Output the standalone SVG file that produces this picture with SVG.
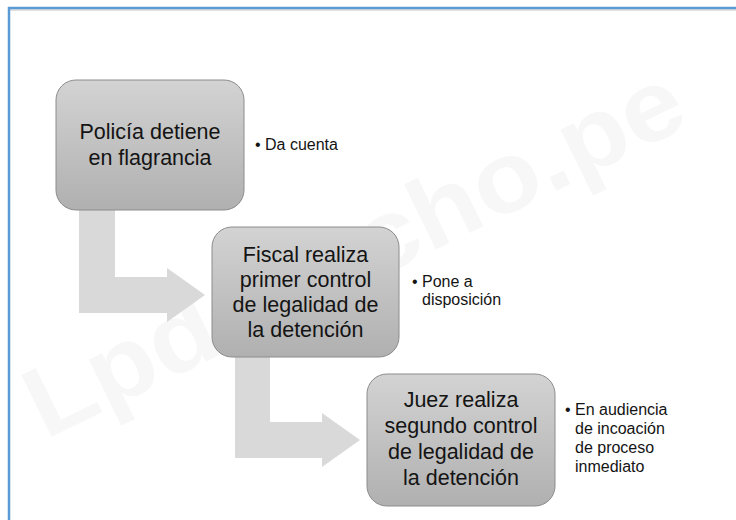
<svg xmlns="http://www.w3.org/2000/svg" width="736" height="520" viewBox="0 0 736 520">
  <defs>
    <linearGradient id="boxg" x1="0" y1="0" x2="0" y2="1">
      <stop offset="0" stop-color="#d3d3d3"/>
      <stop offset="1" stop-color="#b0b0b0"/>
    </linearGradient>
    <style>
      .box { fill: url(#boxg); stroke: #8c8c8c; stroke-width: 1; }
      .bt { font-family: "Liberation Sans", Arial, sans-serif; font-size: 21.5px; fill: #141414; text-anchor: middle; }
      .lt { font-family: "Liberation Sans", Arial, sans-serif; font-size: 16px; fill: #141414; }
      .arrow { fill: #d9d9d9; }
      .wm { font-family: "Liberation Sans", Arial, sans-serif; font-weight: bold; font-size: 100px; fill: #f7f7f7; }
    </style>
  </defs>
  <rect x="0" y="0" width="736" height="520" fill="#ffffff"/>
  <text class="wm" x="45" y="440" transform="rotate(-26 45 440)" textLength="720" lengthAdjust="spacingAndGlyphs">Lpderecho.pe</text>
  <path d="M10,10 H736" stroke="#d6d6d6" stroke-width="1.5" fill="none"/>
  <path d="M9,520 V8 H736" stroke="#5b9bd5" stroke-width="2.5" fill="none"/>

  <g id="connectors">
    <path class="arrow" d="M79,205 L115,205 L115,277 L167,277 L167,268 L205,295 L167,322 L167,313 L79,313 Z"/>
    <path class="arrow" d="M235,352 L270,352 L270,422 L322,422 L322,413 L360,440 L322,467 L322,458 L235,458 Z"/>
  </g>

  <g id="node1">
    <rect class="box" x="56" y="80" width="188" height="130" rx="20" ry="20"/>
    <text class="bt" x="150" y="139">Policía detiene</text>
    <text class="bt" x="150" y="165">en flagrancia</text>
  </g>
  <g id="note1">
    <text class="lt" x="255" y="150">•</text>
    <text class="lt" x="265" y="150">Da cuenta</text>
  </g>

  <g id="node2">
    <rect class="box" x="212" y="227" width="187" height="130" rx="20" ry="20"/>
    <text class="bt" x="305.5" y="262">Fiscal realiza</text>
    <text class="bt" x="305.5" y="287">primer control</text>
    <text class="bt" x="305.5" y="312">de legalidad de</text>
    <text class="bt" x="305.5" y="337">la detención</text>
  </g>
  <g id="note2">
    <text class="lt" x="412" y="287">•</text>
    <text class="lt" x="422" y="287">Pone a</text>
    <text class="lt" x="422" y="305">disposición</text>
  </g>

  <g id="node3">
    <rect class="box" x="367" y="374" width="188" height="132" rx="20" ry="20"/>
    <text class="bt" x="461" y="407">Juez realiza</text>
    <text class="bt" x="461" y="433">segundo control</text>
    <text class="bt" x="461" y="459">de legalidad de</text>
    <text class="bt" x="461" y="485">la detención</text>
  </g>
  <g id="note3">
    <text class="lt" x="565" y="415">•</text>
    <text class="lt" x="575" y="415">En audiencia</text>
    <text class="lt" x="575" y="434">de incoación</text>
    <text class="lt" x="575" y="453">de proceso</text>
    <text class="lt" x="575" y="472">inmediato</text>
  </g>
</svg>
